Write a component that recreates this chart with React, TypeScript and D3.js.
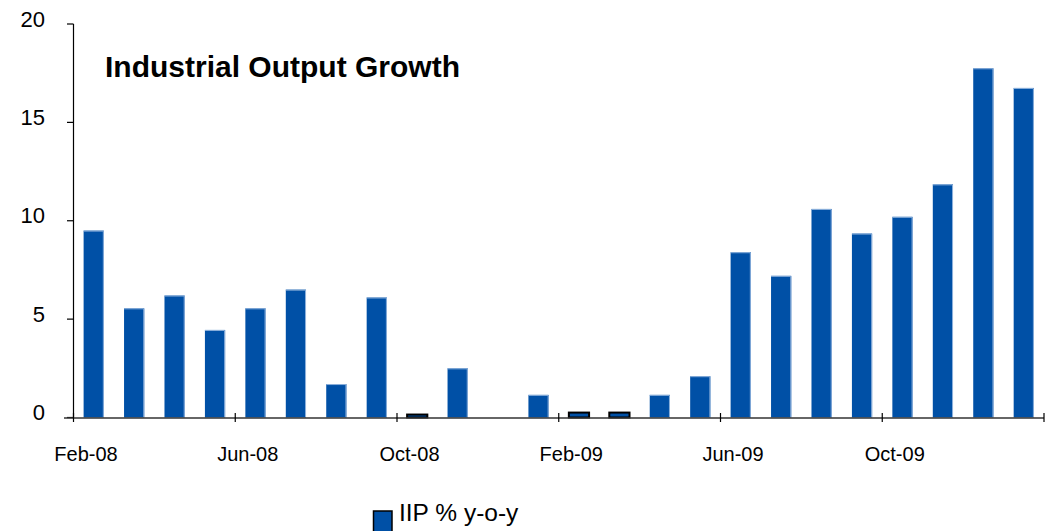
import React from "react";
import * as d3 from "d3";

const months: string[] = [
  "Feb-08", "Mar-08", "Apr-08", "May-08", "Jun-08", "Jul-08", "Aug-08", "Sep-08",
  "Oct-08", "Nov-08", "Dec-08", "Jan-09", "Feb-09", "Mar-09", "Apr-09", "May-09",
  "Jun-09", "Jul-09", "Aug-09", "Sep-09", "Oct-09", "Nov-09", "Dec-09", "Jan-10",
];
const iip: (number | null)[] = [
  9.5, 5.55, 6.2, 4.45, 5.55, 6.5, 1.7, 6.1,
  0.15, 2.5, null, 1.15, 0.25, 0.25, 1.15, 2.1,
  8.4, 7.2, 10.6, 9.35, 10.2, 11.85, 17.75, 16.75,
];
const yTicks: number[] = [0, 5, 10, 15, 20];
const xLabelEvery = 4;
const title = "Industrial Output Growth";
const legendLabel = "IIP % y-o-y";

const W = 1049;
const H = 531;
const left = 73.5;
const right = 1044;
const top = 24;
const bottom = 417.5;
const blue = "#0050a6";
const font = "Arial, 'Liberation Sans', sans-serif";

export default function App() {
  const x = d3.scaleBand<string>().domain(months).range([left, right]).paddingInner(0.5).paddingOuter(0.25);
  const y = d3.scaleLinear().domain([0, 20]).range([bottom, top]);
  const step = x.step();
  const tickPos = (i: number) => left + i * step;
  const xTickIdx = d3.range(0, months.length + 1, xLabelEvery);

  return (
    <svg width={W} height={H} style={{ position: "absolute", left: 0, top: 0, display: "block", background: "#fff" }}>
      <text x={105} y={77} fontFamily={font} fontWeight="bold" fontSize={30} fill="#000">{title}</text>

      {months.map((m, i) => {
        const v = iip[i];
        if (v == null) return null;
        const x0 = x(m)!;
        const bw = x.bandwidth();
        const y0 = y(v);
        const h = bottom - y0;
        const tiny = v < 0.5;
        return (
          <g key={m}>
            <rect x={x0} y={y0} width={bw} height={h} fill={blue}
              stroke={tiny ? "#000" : "none"} strokeWidth={tiny ? 2 : 0} />
            {!tiny && (
              <path d={`M${x0},${y0 + 0.5}H${x0 + bw - 0.5}V${bottom}`} fill="none" stroke="#8fb2dc" strokeWidth={1} />
            )}
          </g>
        );
      })}

      {/* y axis */}
      <line x1={left} x2={left} y1={top} y2={bottom} stroke="#000" strokeWidth={1.2} />
      {yTicks.map((t) => (
        <g key={t}>
          <line x1={67} x2={left} y1={y(t)} y2={y(t)} stroke="#000" strokeWidth={1.2} />
          <text x={45} y={y(t) + 2.5} textAnchor="end" fontFamily={font} fontSize={22} fill="#000">{t}</text>
        </g>
      ))}

      {/* x axis */}
      <line x1={64} x2={right} y1={bottom + 0.5} y2={bottom + 0.5} stroke="#333" strokeWidth={1.5} />
      {xTickIdx.map((i) => (
        <line key={i} x1={tickPos(i)} x2={tickPos(i)} y1={413} y2={422} stroke="#000" strokeWidth={1.2} />
      ))}
      {xTickIdx.filter((i) => i < months.length).map((i) => (
        <text key={months[i]} x={tickPos(i) + 12.5} y={461} textAnchor="middle" fontFamily={font} fontSize={20} fill="#000">
          {months[i]}
        </text>
      ))}

      {/* legend */}
      <rect x={373.5} y={511} width={18.5} height={24} fill={blue} stroke="#000" strokeWidth={1.5} />
      <text x={399} y={521} fontFamily={font} fontSize={24.5} fill="#000">{legendLabel}</text>
    </svg>
  );
}
